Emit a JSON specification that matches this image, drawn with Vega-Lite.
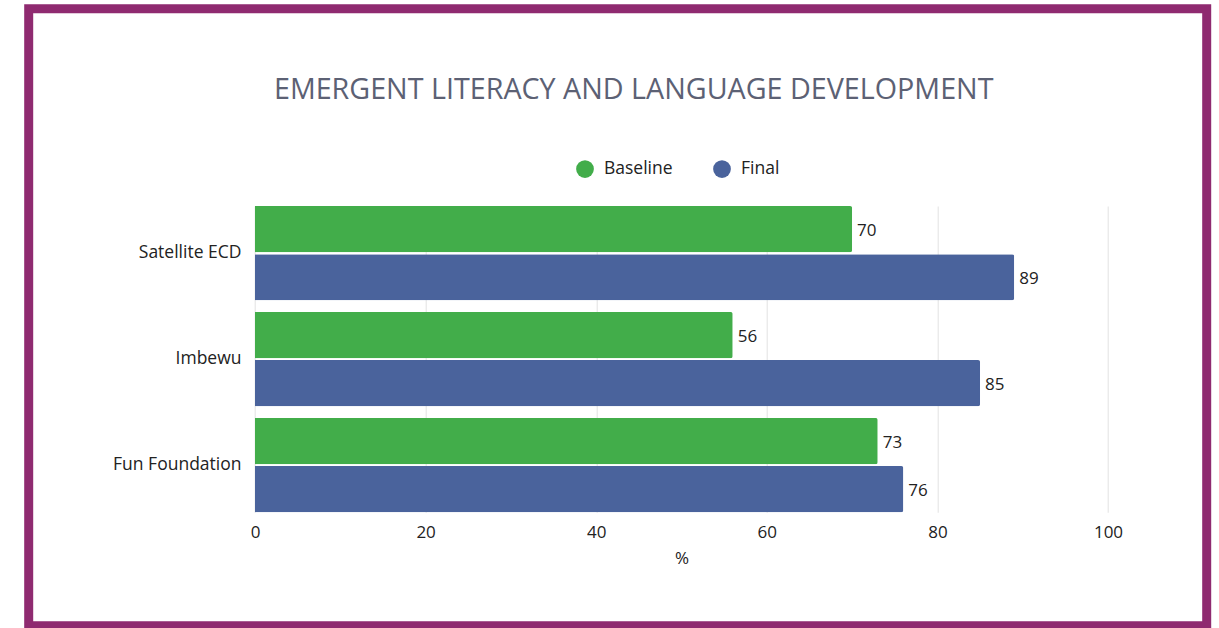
{
  "$schema": "https://vega.github.io/schema/vega-lite/v6.json",
  "width": 1178,
  "height": 617,
  "autosize": {"type": "none"},
  "padding": {"left": 28.7, "top": 8.7, "right": 12.3, "bottom": 2.3},
  "background": "#ffffff",
  "config": {
    "view": {"stroke": "#8f2a70", "strokeWidth": 9, "fill": "#ffffff"},
    "font": "Open Sans"
  },
  "title": {
    "text": "EMERGENT LITERACY AND LANGUAGE DEVELOPMENT",
    "font": "Open Sans",
    "fontSize": 28.7,
    "fontWeight": "normal",
    "color": "#5c6174",
    "anchor": "middle",
    "frame": "group",
    "offset": -95.5,
    "dx": 16
  },
  "data": {
    "values": [
      {"program": "Satellite ECD", "series": "Baseline", "value": 70},
      {"program": "Satellite ECD", "series": "Final", "value": 89},
      {"program": "Imbewu", "series": "Baseline", "value": 56},
      {"program": "Imbewu", "series": "Final", "value": 85},
      {"program": "Fun Foundation", "series": "Baseline", "value": 73},
      {"program": "Fun Foundation", "series": "Final", "value": 76}
    ]
  },
  "encoding": {
    "y": {
      "field": "program",
      "type": "nominal",
      "sort": ["Satellite ECD", "Imbewu", "Fun Foundation"],
      "scale": {"range": [197.3, 503.6], "paddingInner": 0.11, "paddingOuter": 0},
      "axis": {
        "title": null,
        "orient": "left",
        "offset": -226.3,
        "ticks": false,
        "domain": false,
        "grid": false,
        "labelPadding": 14,
        "labelFontSize": 17.5,
        "labelColor": "#222222",
        "labelFont": "Open Sans"
      }
    },
    "yOffset": {
      "field": "series",
      "type": "nominal",
      "sort": ["Baseline", "Final"],
      "scale": {"paddingInner": 0.04}
    },
    "x": {
      "field": "value",
      "type": "quantitative",
      "scale": {"domain": [-26.53, 111.57], "nice": false, "zero": false}
    }
  },
  "resolve": {"axis": {"x": "independent"}},
  "layer": [
    {
      "mark": {"type": "bar", "cornerRadiusEnd": 2},
      "encoding": {
        "x": {
          "field": "value",
          "type": "quantitative",
          "axis": {
            "orient": "bottom",
            "offset": -113.4,
            "values": [0, 20, 40, 60, 80, 100],
            "title": "%",
            "titleX": 652.8,
            "grid": false,
            "domain": false,
            "ticks": false,
            "labelPadding": 12,
            "labelFontSize": 17,
            "labelColor": "#222222",
            "labelFont": "Open Sans",
            "titleFontSize": 17,
            "titleFontWeight": "normal",
            "titleColor": "#222222",
            "titleFont": "Open Sans",
            "titlePadding": 10
          }
        },
        "color": {
          "field": "series",
          "type": "nominal",
          "sort": ["Baseline", "Final"],
          "scale": {"domain": ["Baseline", "Final"], "range": ["#42ad4a", "#4a639c"]},
          "legend": {
            "title": null,
            "orient": "none",
            "legendX": 547.3,
            "legendY": 151.3,
            "direction": "horizontal",
            "symbolType": "circle",
            "symbolSize": 314,
            "symbolStrokeWidth": 0,
            "labelFontSize": 17.5,
            "labelColor": "#222222",
            "labelFont": "Open Sans",
            "labelOffset": 10,
            "columnPadding": 40,
            "padding": 0
          }
        }
      }
    },
    {
      "mark": {"type": "text", "align": "left", "baseline": "middle", "dx": 5, "dy": 2, "fontSize": 17, "color": "#222222", "font": "Open Sans"},
      "encoding": {
        "x": {
          "field": "value",
          "type": "quantitative",
          "axis": {
            "orient": "top",
            "values": [0, 20, 40, 60, 80, 100],
            "title": null,
            "grid": true,
            "gridColor": "#e3e3e3",
            "gridWidth": 1,
            "domain": false,
            "ticks": false,
            "labels": false
          }
        },
        "text": {"field": "value", "type": "quantitative"}
      }
    }
  ]
}
